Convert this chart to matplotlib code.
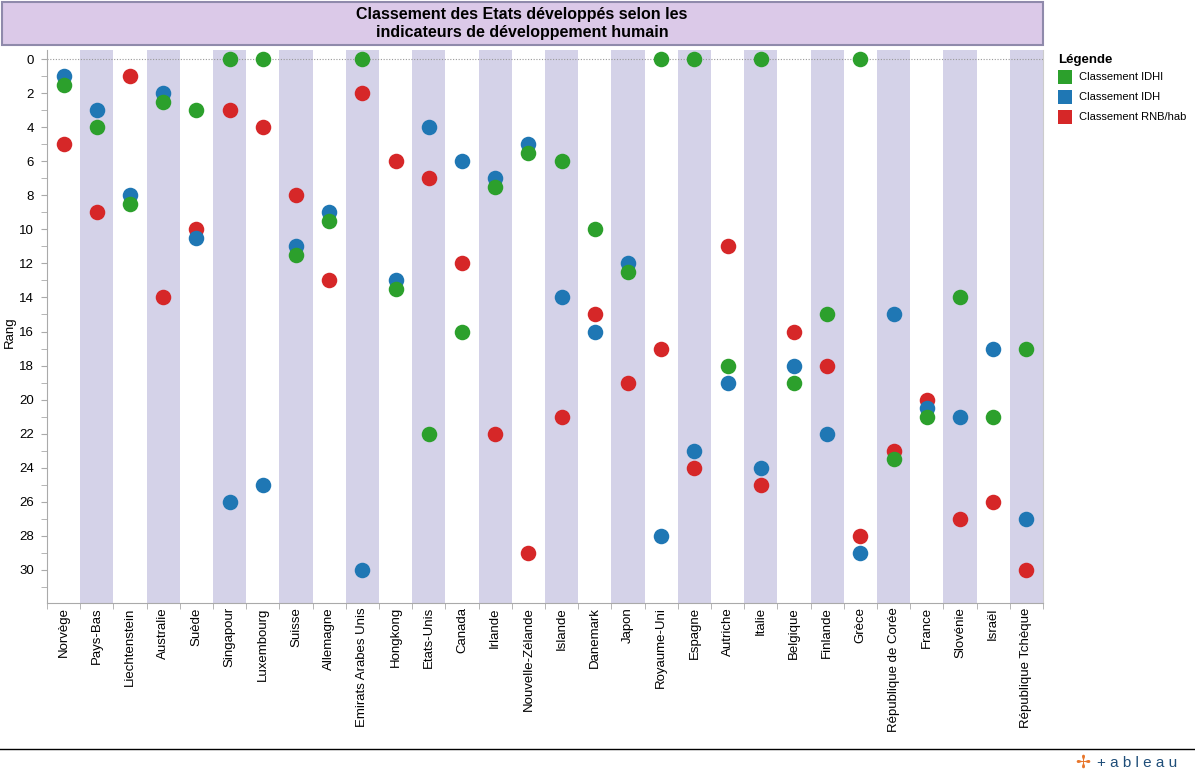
import numpy as np
import matplotlib
matplotlib.use("Agg")
import matplotlib.pyplot as plt
from matplotlib.patches import Rectangle
from matplotlib.lines import Line2D

plt.rcParams['font.family'] = ['Liberation Sans', 'DejaVu Sans']

pays = ["Norvège", "Pays-Bas", "Liechtenstein", "Australie", "Suède", "Singapour",
        "Luxembourg", "Suisse", "Allemagne", "Emirats Arabes Unis", "Hongkong",
        "Etats-Unis", "Canada", "Irlande", "Nouvelle-Zélande", "Islande", "Danemark",
        "Japon", "Royaume-Uni", "Espagne", "Autriche", "Italie", "Belgique", "Finlande",
        "Grèce", "République de Corée", "France", "Slovénie", "Israël", "République Tchèque"]

rang_idhi = [1.5, 4, 8.5, 2.5, 3, 0, 0, 11.5, 9.5, 0, 13.5, 22, 16, 7.5, 5.5, 6, 10,
             12.5, 0, 0, 18, 0, 19, 15, 0, 23.5, 21, 14, 21, 17]
rang_idh = [1, 3, 8, 2, 10.5, 26, 25, 11, 9, 30, 13, 4, 6, 7, 5, 14, 16,
            12, 28, 23, 19, 24, 18, 22, 29, 15, 20.5, 21, 17, 27]
rang_rnb = [5, 9, 1, 14, 10, 3, 4, 8, 13, 2, 6, 7, 12, 22, 29, 21, 15,
            19, 17, 24, 11, 25, 16, 18, 28, 23, 20, 27, 26, 30]

c_idhi = "#2ca02c"
c_idh = "#1f77b4"
c_rnb = "#d62728"

fig = plt.figure(figsize=(11.95, 7.78), dpi=100)
ax = fig.add_axes([47 / 1195, 1 - 603 / 778, 996 / 1195, 553 / 778])

x = np.arange(len(pays))

# bandes alternées
for i in x:
    if i % 2 == 1:
        ax.axvspan(i - 0.5, i + 0.5, color="#d4d2e8", lw=0, zorder=0)

ax.axhline(0, color="#999999", lw=0.8, ls=(0, (1, 1.5)), zorder=1)

s = 125
ax.scatter(x, rang_rnb, s=s, color=c_rnb, lw=0, zorder=3)
ax.scatter(x, rang_idh, s=s, color=c_idh, lw=0, zorder=4)
ax.scatter(x, rang_idhi, s=s, color=c_idhi, lw=0, zorder=5)

ax.set_xlim(-0.5, len(pays) - 0.5)
ax.set_ylim(31.94, -0.53)

ax.set_yticks(np.arange(0, 31, 2))
ax.set_yticks(np.arange(0, 32, 1), minor=True)
ax.tick_params(axis="y", which="both", direction="out", length=4.3, color="#aaaaaa",
               labelsize=9.5, pad=5)

ax.set_xticks(x)
ax.set_xticklabels(pays, rotation=90, fontsize=9.5)
ax.set_xticks(np.arange(-0.5, len(pays), 1), minor=True)
ax.tick_params(axis="x", which="major", length=0, pad=3)
ax.tick_params(axis="x", which="minor", direction="out", length=4, color="#aaaaaa")

ax.set_ylabel("Rang", fontsize=9.5)
ax.yaxis.set_label_coords(-31 / 996, 0.49)

for side in ["top", "right"]:
    ax.spines[side].set_visible(False)
for side in ["left", "bottom"]:
    ax.spines[side].set_color("#aaaaaa")
ax.plot([1, 1], [0, 1], transform=ax.transAxes, color="#cccccc", lw=0.8, clip_on=False)

# bandeau du titre
fig.patches.append(Rectangle((2 / 1195, 1 - 45 / 778), 1041 / 1195, 43 / 778,
                             transform=fig.transFigure, facecolor="#dbc9e8",
                             edgecolor="#8f8aab", lw=1.5))
fig.text(522 / 1195, 1 - 24 / 778,
         "Classement des Etats développés selon les\nindicateurs de développement humain",
         ha="center", va="center", fontsize=11.5, fontweight="bold", linespacing=1.25)

# légende
fig.text(1058 / 1195, 1 - 60 / 778, "Légende", fontsize=9.5, fontweight="bold",
         va="center", ha="left")
for k, (lab, col) in enumerate([("Classement IDHI", c_idhi), ("Classement IDH", c_idh),
                                ("Classement RNB/hab", c_rnb)]):
    yy = 77 + 20 * k
    fig.patches.append(Rectangle((1058 / 1195, 1 - (yy + 7) / 778), 14 / 1195, 14 / 778,
                                 transform=fig.transFigure, facecolor=col, lw=0))
    fig.text(1079 / 1195, 1 - yy / 778, lab, fontsize=8, va="center", ha="left")

# pied de page
fig.add_artist(Line2D([0, 1], [1 - 749 / 778, 1 - 749 / 778], color="black", lw=1))
fig.text(1075 / 1195, 1 - 763 / 778, "✢", fontsize=13, color="#e8762b", va="center",
         ha="left", family=["DejaVu Sans"])
fig.text(1097 / 1195, 1 - 763 / 778, "+ a b l e a u", fontsize=11, color="#1f4e79",
         va="center", ha="left")

fig.savefig("out.png", dpi=100)
